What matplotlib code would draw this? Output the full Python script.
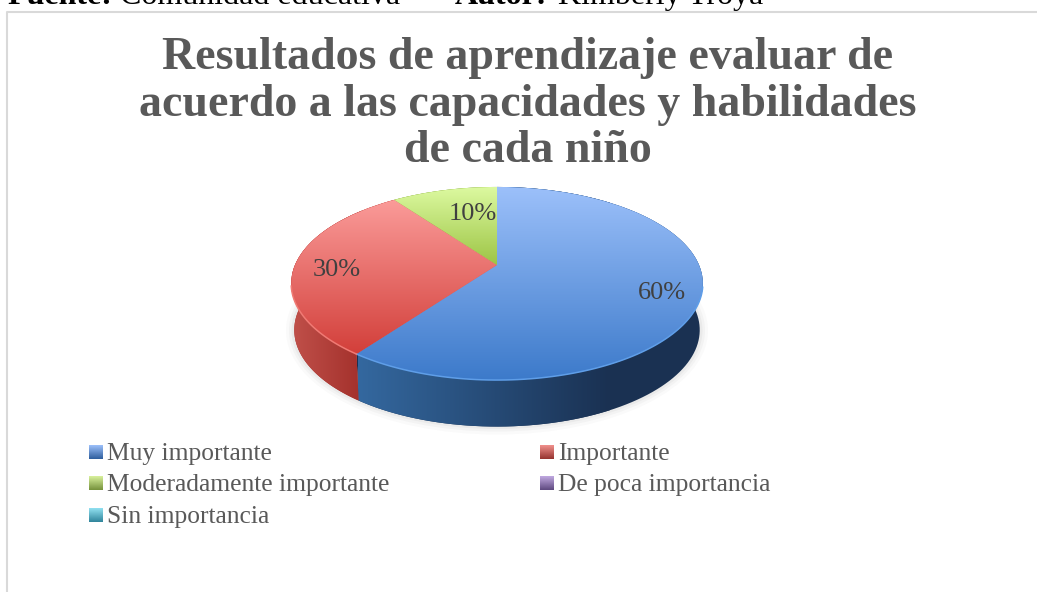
import numpy as np
import matplotlib
matplotlib.use("Agg")
import matplotlib.pyplot as plt
from matplotlib.colors import LinearSegmentedColormap as LSC
from matplotlib.patches import Polygon, Ellipse
from matplotlib.transforms import Transform

categories = ["Muy importante", "Importante", "Moderadamente importante",
              "De poca importancia", "Sin importancia"]
values = [60, 30, 10, 0, 0]
title_lines = ["Resultados de aprendizaje evaluar de",
               "acuerdo a las capacidades y habilidades",
               "de cada niño"]

W, H = 1037, 592
CX, CY, B, KX, KY = 497.0, 265.0, 0.1917, 202.0, 93.0   # perspective of the pie top
DEPTH, RIM_SCALE = 46.5, 0.985                           # lower rim relative to the top

class Perspective(Transform):
    input_dims = output_dims = 2
    is_separable = False
    def transform_non_affine(self, xy):
        xy = np.asarray(xy, float)
        d = 1 + B * xy[:, 1]
        return np.column_stack([CX + KX * xy[:, 0] / d, CY - KY * xy[:, 1] / d])

persp = Perspective()

fig = plt.figure(figsize=(W / 100, H / 100), dpi=100, facecolor="white")
ax = fig.add_axes([0, 0, 1, 1])

top_grad = [("#9cc0fa", "#3c7aca", 187, 380), ("#fb9c9a", "#d23e39", 198, 356),
            ("#dcf9a0", "#9cc444", 187, 266), ("#c0a8e0", "#7a5a9c", 187, 266),
            ("#90e0f0", "#3aa0bc", 187, 266)]
wall_grad = [("#34689f", "#1a3152", 358, 610), ("#c0504a", "#a3302b", 292, 362),
             ("#9cc444", "#6c8a2c", 292, 362), ("#7a5a9c", "#4c3868", 292, 362),
             ("#3aa0bc", "#267088", 292, 362)]
legend_cols = [("#9cc0fa", "#2f5f9e"), ("#f0908c", "#963430"), ("#d8f09c", "#76923c"),
               ("#c0a8e0", "#5f4a80"), ("#90e0f0", "#31859c")]

def autopct(p):
    return f"{p:.0f}%" if p >= 0.5 else ""

wedges, _, pcts = ax.pie(values, startangle=90, counterclock=False, autopct=autopct,
                         colors=[c[1] for c in top_grad],
                         textprops=dict(family="Liberation Serif"))
ax.set_aspect("auto")
ax.set_frame_on(False)

# soft shadow under the pie
for grow, alpha in [(8, .035), (5, .05), (2.5, .07)]:
    ax.add_patch(Ellipse((CX, 283 + DEPTH + 1), 2 * (203 + grow), 2 * (96 + grow),
                         fc="#777777", ec="none", alpha=alpha, zorder=1))

# side wall
fr = np.cumsum([0] + values) / sum(values)
for i in range(len(values)):
    if values[i] == 0:
        continue
    th = np.radians(90 - 360 * np.linspace(fr[i], fr[i + 1], 120))
    top = persp.transform_non_affine(np.column_stack([np.cos(th), np.sin(th)]))
    bot = np.column_stack([CX + (top[:, 0] - CX) * RIM_SCALE, top[:, 1] + DEPTH])
    poly = Polygon(np.vstack([top, bot[::-1]]), closed=True, fc=wall_grad[i][1], ec="none", zorder=2)
    ax.add_patch(poly)
    c0, c1, x0, x1 = wall_grad[i]
    im = ax.imshow(np.linspace(0, 1, 256)[None, :], cmap=LSC.from_list("w", [c0, c1]),
                   extent=(x0, x1, 440, 180), aspect="auto", zorder=3)
    im.set_clip_path(poly)

# top faces
for i, w in enumerate(wedges):
    w.set_transform(persp + ax.transData)
    w.set_zorder(4)
    w.set_edgecolor("none")
    c0, c1, y0, y1 = top_grad[i]
    if values[i] == 0:
        w.set_visible(False)
        continue
    im = ax.imshow(np.linspace(0, 1, 256)[:, None], cmap=LSC.from_list("t", [c0, c1]),
                   extent=(285, 710, y1, y0), aspect="auto", zorder=5)
    im.set_clip_path(w)

# light rim on the front edge
rim_cols = ["#5f9ee8", "#f07a74"]
for i, col in enumerate(rim_cols):
    th = np.radians(90 - 360 * np.linspace(fr[i], fr[i + 1], 160))
    p = persp.transform_non_affine(np.column_stack([np.cos(th), np.sin(th)]))
    keep = p[:, 1] > 285
    ax.plot(p[keep, 0], p[keep, 1], color=col, lw=1.1, zorder=6)

# percentage labels
for t, pos in zip(pcts, [(662, 293), (337, 270), (473, 214)]):
    t.set_position(pos)
    t.set(ha="center", va="center", fontsize=19, color="#404040", zorder=8)

# title
title_font = dict(family="Liberation Serif", fontweight="bold", color="#595959",
                  fontsize=33, ha="center", va="center")
for line, y in zip(title_lines, [58, 105, 151]):
    ax.text(528, y, line, **title_font)

# legend
slots = [(89, 452), (540, 452), (89, 483), (540, 483), (89, 515)]
for name, (x, y), cols in zip(categories, slots, legend_cols):
    ax.imshow(np.linspace(0, 1, 32)[:, None], cmap=LSC.from_list("l", cols),
              extent=(x, x + 14, y + 7, y - 7), aspect="auto", zorder=5)
    ax.text(x + 18, y + 2, name, family="Liberation Serif", fontsize=18.4, color="#595959",
            ha="left", va="center")

# chart frame and source line above it
ax.plot([6.5, 6.5, W], [H, 11.5, 11.5], color="#d9d9d9", lw=1.5, zorder=1)
hdr = dict(family="Liberation Serif", fontsize=23, color="black", va="baseline", clip_on=False)
ax.text(7, 4, "Fuente:", fontweight="bold", **hdr)
ax.text(120, 4, "Comunidad educativa", **hdr)
ax.text(455, 4, "Autor:", fontweight="bold", **hdr)
ax.text(558, 4, "Kimberly Troya", **hdr)

ax.set_xlim(0, W)
ax.set_ylim(H, 0)
ax.set_xticks([])
ax.set_yticks([])
fig.savefig("out.png", dpi=100, facecolor="white")
